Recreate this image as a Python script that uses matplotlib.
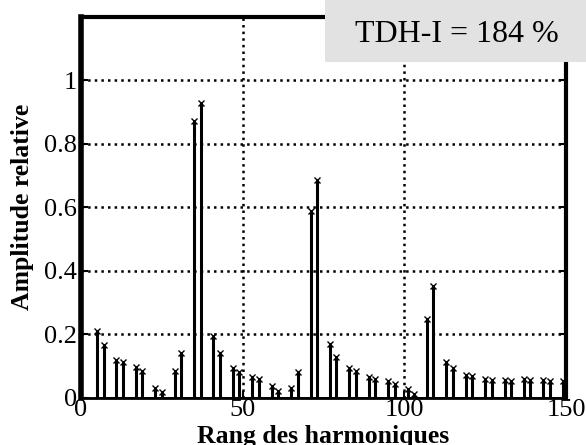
import numpy as np
import matplotlib.pyplot as plt
from matplotlib.patches import Rectangle

# Harmonic spectrum of the line current (relative to the fundamental)
harmonics = [5, 7, 11, 13, 17, 19, 23, 25, 29, 31, 35, 37, 41, 43, 47, 49,
             53, 55, 59, 61, 65, 67, 71, 73, 77, 79, 83, 85, 89, 91, 95, 97,
             101, 103, 107, 109, 113, 115, 119, 121, 125, 127, 131, 133,
             137, 139, 143, 145, 149]
amplitudes = [0.21, 0.165, 0.12, 0.114, 0.097, 0.085, 0.03, 0.019, 0.085, 0.142,
              0.871, 0.928, 0.195, 0.142, 0.093, 0.08, 0.066, 0.059, 0.036, 0.021,
              0.031, 0.08, 0.588, 0.686, 0.169, 0.13, 0.093, 0.085, 0.066, 0.059,
              0.053, 0.045, 0.027, 0.012, 0.248, 0.352, 0.113, 0.093, 0.073, 0.068,
              0.059, 0.055, 0.055, 0.053, 0.058, 0.055, 0.055, 0.053, 0.053]
thd_label = "TDH-I = 184 %"

x_ticks = [0, 50, 100, 150]
y_ticks = [0, 0.2, 0.4, 0.6, 0.8, 1]
y_tick_labels = ["0", "0.2", "0.4", "0.6", "0.8", "1"]

plt.rcParams['font.family'] = ['Liberation Serif', 'DejaVu Serif']

fig = plt.figure(figsize=(5.86, 4.45), dpi=100)
ax = fig.add_axes([0.138, 0.106, 0.828, 0.856])

markerline, stemlines, baseline = ax.stem(harmonics, amplitudes,
                                          linefmt='k-', markerfmt='kx', basefmt='k-')
plt.setp(stemlines, linewidth=2.2)
plt.setp(markerline, markersize=5, markeredgewidth=1.0)
plt.setp(baseline, linewidth=2)

ax.set_xlim(0, 150)
ax.set_ylim(0, 1.2)
ax.set_xticks(x_ticks)
ax.set_yticks(y_ticks)
ax.set_yticklabels(y_tick_labels)
ax.tick_params(direction='in', length=5, width=1.5, labelsize=19, pad=3,
               top=False, right=True)
ax.tick_params(axis='x', pad=1)
ax.grid(True, color='k', linestyle=':', linewidth=1.8)
ax.set_axisbelow(True)

for side, lw in [('left', 4), ('top', 3), ('right', 3), ('bottom', 2)]:
    ax.spines[side].set_linewidth(lw)

ax.set_xlabel("Rang des harmoniques", fontsize=18.5, fontweight='bold', labelpad=3)
ax.set_ylabel("Amplitude relative", fontsize=18.5, fontweight='bold', labelpad=7)

# grey box carrying the distortion rate
fig.patches.append(Rectangle((325 / 586, 1 - 62 / 445), 261 / 586, 62 / 445,
                             transform=fig.transFigure, facecolor='#e2e2e2',
                             edgecolor='none', zorder=5))
fig.text(457 / 586, 1 - 34 / 445, thd_label, ha='center', va='center',
         fontsize=23, zorder=6)

fig.savefig("out.png", dpi=100)
